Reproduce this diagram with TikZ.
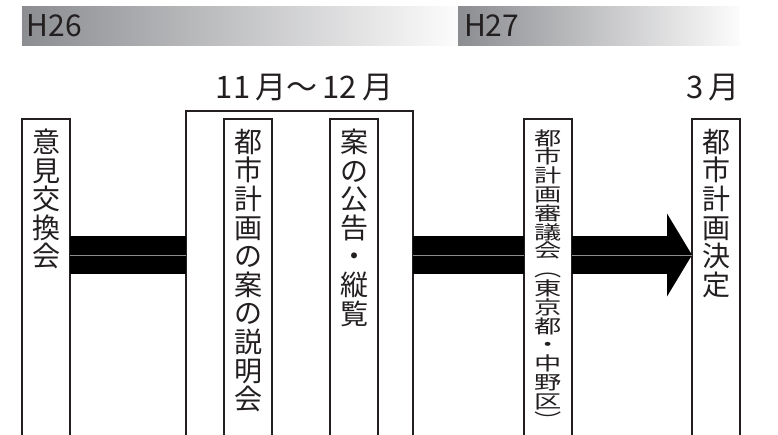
\documentclass[tikz,border=0pt]{standalone}
\usepackage{fontspec}
\setmainfont{Noto Sans CJK JP}
\newfontfamily\widejp[FakeStretch=1.45]{Noto Sans CJK JP}
\usetikzlibrary{arrows.meta,positioning}
\definecolor{inkgray}{RGB}{35,31,32}
\definecolor{bardark}{RGB}{140,141,145}
\definecolor{barlight}{RGB}{252,252,252}

\begin{document}
\begin{tikzpicture}[
 x=1pt,y=-1pt,
 every node/.style={inner sep=0pt,outer sep=0pt,text=inkgray},
 yearbar/.style={left color=bardark,right color=barlight,minimum height=39pt,anchor=north west},
 yeartext/.style={font=\fontsize{30}{30}\selectfont,anchor=west},
 month/.style={font=\fontsize{31}{31}\selectfont},
 stagebox/.style={draw=inkgray,line width=1.6pt,minimum width=48pt,minimum height=330pt,anchor=north},
 vlabel/.style={font=\fontsize{28}{28.6}\selectfont,align=center,anchor=north},
 band/.style={draw=black,line width=38pt},
 seam/.style={draw=black!45,line width=0.8pt}
]
\clip (0,0) rectangle (778,434);
% year bars
\node[yearbar,minimum width=436pt] (bar26) at (22,6) {};
\node[yearbar,minimum width=282pt] (bar27) at (458,6) {};
\node[yeartext,right=5pt of bar26.west] {H26};
\node[yeartext,right=6pt of bar27.west] {H27};
% stages
\node[stagebox] (iken) at (46,119) {};
\node[stagebox,minimum width=227pt,minimum height=340pt] (group) at (299.5,111) {};
\node[stagebox] (setsumei) at (248,119) {};
\node[stagebox] (koukoku) at (354,119) {};
\node[stagebox] (shingi) at (548,119) {};
\node[stagebox] (kettei) at (716,119) {};
\node[vlabel,below=10pt of iken.north] {意\\見\\交\\換\\会};
\node[vlabel,below=10pt of setsumei.north] {都\\市\\計\\画\\の\\案\\の\\説\\明\\会};
\node[vlabel,below=10pt of koukoku.north] {案\\の\\公\\告\\・\\縦\\覧};
\node[vlabel,font=\widejp\fontsize{18.8}{18.8}\selectfont,below=10.5pt of shingi.north] {都\\市\\計\\画\\審\\議\\会\\︵\\東\\京\\都\\・\\中\\野\\区\\︶};
\node[vlabel,below=10pt of kettei.north] {都\\市\\計\\画\\決\\定};
\node[month,above=10pt of group.north,xshift=5pt] {11\,月～\,12\,月};
\node[month,above left=18pt and 0pt of kettei.north east] {3\,月};
% flow
\coordinate (mid) at (0,255);
\draw[band] (iken.east |- mid) -- (group.west |- mid);
\draw[band] (group.east |- mid) -- (shingi.west |- mid);
\draw[band,-{Triangle[length=25pt,width=83pt,line width=0pt]}] (shingi.east |- mid) -- (kettei.west |- mid);
\draw[seam] (iken.east |- mid) -- (group.west |- mid);
\draw[seam] (group.east |- mid) -- (shingi.west |- mid);
\draw[seam] (shingi.east |- mid) -- (kettei.west |- mid);
\end{tikzpicture}
\end{document}
